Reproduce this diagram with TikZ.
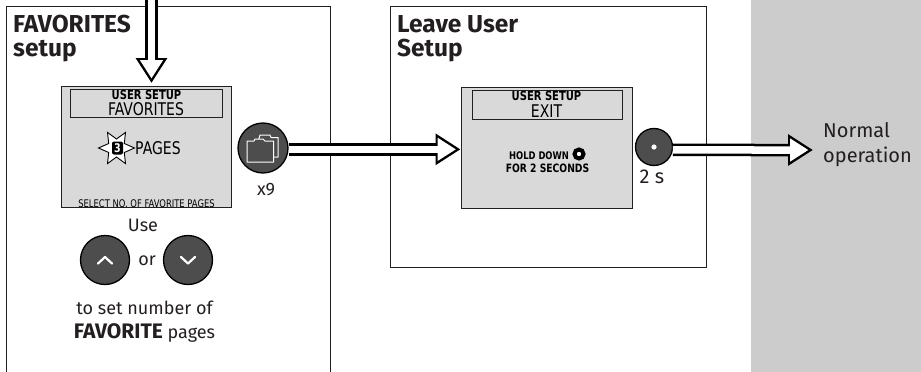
\documentclass[tikz,border=0pt]{standalone}
\usepackage{fontspec}
\setmainfont{Fira Sans}
\newfontfamily\lcdfont[FakeStretch=0.8]{DejaVu Sans}
\usetikzlibrary{positioning}
\usetikzlibrary{calc}
\usetikzlibrary{shapes.geometric}
\usetikzlibrary{arrows.meta}
\definecolor{lcdgray}{HTML}{D9D9D9}
\definecolor{bandgray}{HTML}{CCCCCC}
\definecolor{btngray}{HTML}{4D4D4D}
\definecolor{inkgray}{HTML}{231F20}
\begin{document}
\begin{tikzpicture}[x=1pt,y=-1pt,font=\fontsize{18}{22}\selectfont,text=inkgray]
	\tikzstyle{panel}=[draw=inkgray,line width=1pt,anchor=north west,inner sep=0pt]
	\tikzstyle{lcd}=[draw=inkgray,fill=lcdgray,line width=1.3pt,anchor=north west,inner sep=0pt]
	\tikzstyle{lcdtitle}=[draw=inkgray,line width=.9pt,anchor=north west,inner sep=0pt]
	\tikzstyle{btn}=[circle,draw=black,fill=btngray,line width=1.3pt,inner sep=0pt]
	\tikzstyle{heading}=[anchor=base west,align=left,inner sep=0pt,font=\fontsize{24.5}{23.5}\selectfont\bfseries]
	\tikzstyle{caption}=[align=center,inner sep=0pt]
	\tikzstyle{lcdtext}=[inner sep=0pt,text=black]
	\tikzstyle{lcdtop}=[lcdtext,font=\lcdfont\fontsize{12.5}{13}\selectfont\bfseries]
	\tikzstyle{lcdname}=[lcdtext,font=\lcdfont\fontsize{17.5}{18}\selectfont]
	\tikzstyle{lcdhold}=[lcdtext,font=\lcdfont\fontsize{11.5}{12}\selectfont\bfseries]
	\tikzstyle{chevron}=[draw=white,line width=2.2pt,line cap=round,line join=round]
	\tikzstyle{folder}=[draw=white,fill=btngray,line width=1pt,line join=round]
	\tikzstyle{hollow}=[draw=black,line width=12.5pt,-{Triangle[length=25pt,width=30pt]},
		postaction={draw=white,line width=7.5pt,shorten >=4.5pt,-{Triangle[length=18.5pt,width=22pt,color=white]}}]

	\useasboundingbox (0,0) rectangle (921,372);
	\fill[bandgray] (751,0) rectangle (921,372);

	\draw[panel] (6,380) -- (6,6.5) -- (330.5,6.5) -- (330.5,380);
	\draw[panel] (390,6.5) rectangle (706,267);

	\node[heading] (Head_1) at (13,56) {FAVORITES\\setup};
	\node[heading] (Head_2) at (397,56) {Leave User\\Setup};

	\node[lcd,minimum width=170.5pt,minimum height=121pt] (LCD_1) at (60.5,86) {};
	\node[lcdtitle,minimum width=152.5pt,minimum height=28pt] (Title_1) at (69.5,88.5) {};
	\node[lcdtop] (Top_1) at (146.5,94.5) {USER SETUP};
	\node[lcdname] (Name_1) at (146,109) {FAVORITES};
	\node[star,star points=6,star point ratio=2,shape border rotate=30,draw=black,fill=white,line width=.9pt,minimum size=36pt,inner sep=0pt] (Burst) at (116.5,148) {};
	\node[fill=black,rounded corners=2pt,minimum width=11pt,minimum height=13pt,inner sep=0pt,text=white,font=\lcdfont\fontsize{12}{12}\selectfont\bfseries] (Count) at (117.5,148) {3};
	\node[lcdname,anchor=west] (Pages) at (135,148) {PAGES};
	\node[lcdtext,font=\lcdfont\fontsize{10.5}{11}\selectfont] (Hint_1) at (146.5,203.5) {SELECT NO. OF FAVORITE PAGES};

	\node[lcd,minimum width=171.5pt,minimum height=121pt] (LCD_2) at (460.5,87) {};
	\node[lcdtitle,minimum width=150.5pt,minimum height=29pt] (Title_2) at (471.5,90) {};
	\node[lcdtop] (Top_2) at (546.5,96) {USER SETUP};
	\node[lcdname] (Name_2) at (546.5,111) {EXIT};
	\node[lcdhold,font=\lcdfont\fontsize{10.5}{12}\selectfont\bfseries] (Hold_1) at (539,156) {HOLD DOWN};
	\node[lcdhold] (Hold_2) at (547.5,168.5) {FOR 2 SECONDS};
	\node[circle,draw=black,line width=4pt,fill=white,minimum size=9pt,inner sep=0pt] (Hold_Icon) at (579,154) {};

	\node[btn,minimum size=50pt] (Btn_Pages) at (263,148) {};
	\node[btn,minimum size=37pt] (Btn_Hold) at (654,147) {};
	\node[btn,minimum size=49pt] (Btn_Up) at (105,260) {};
	\node[btn,minimum size=49pt] (Btn_Down) at (188,260) {};

	\draw[folder] (253,142) -- (258,142) -- (260,135) -- (270,135) -- (271,137.5) -- (278,137.5) -- (278,157) -- (253,157) -- cycle;
	\draw[folder] (247,162) -- (247,141) -- (254,141) -- (255,139) -- (263,139) -- (265,141) -- (273.5,141) -- (273.5,162) -- cycle;
	\fill[white] (Btn_Hold) circle (2.6pt);
	\draw[chevron] (98,263.5) -- (105,257) -- (112,263.5);
	\draw[chevron] (181,257) -- (188,263.5) -- (195,257);

	\node[caption] (Use) at (143,225) {Use};
	\node[caption] (Or) at (147,261) {or};
	\node[caption,anchor=base,font=\fontsize{18}{24}\selectfont] (Explain) at (144.5,338) {to set number of\\{\fontsize{21}{24}\selectfont\bfseries FAVORITE} pages};
	\node[caption] (Count_9) at (266,190) {x9};
	\node[caption,font=\fontsize{20}{24}\selectfont] (Time_2) at (652,177) {2 s};
	\node[caption,anchor=base west,align=left,font=\fontsize{20}{25}\selectfont] (Normal) at (823,162) {Normal\\operation};

	\coordinate (Entry) at (151.5,-3);
	\coordinate (Normal_In) at (813,150);

	\draw[hollow] (Entry) -- ($(Entry |- LCD_1.north)+(0,-3)$);
	\draw[hollow] (Btn_Pages.-3) -- (Btn_Pages.-3 -| LCD_2.west);
	\draw[hollow] (Btn_Hold.-9) -- (Normal_In);
\end{tikzpicture}
\end{document}
